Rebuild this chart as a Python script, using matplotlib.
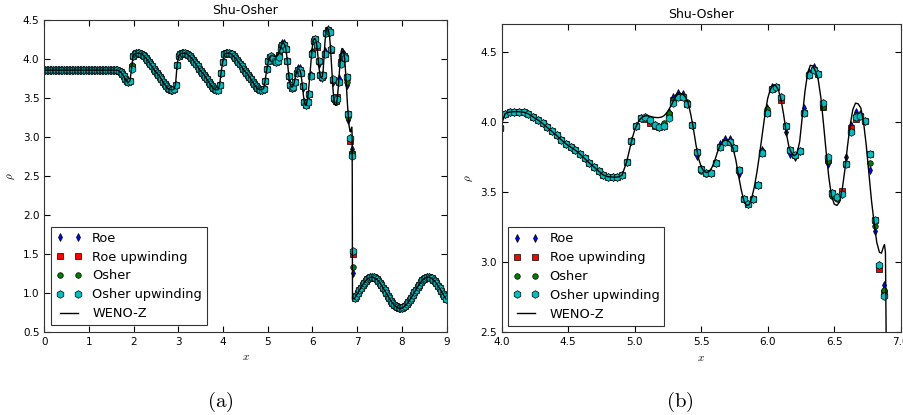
#!/usr/bin/env python3
# -*- coding: utf-8 -*-
# Shu-Osher density: full domain (a) and zoom on the shocked region (b)

import numpy as np
import matplotlib
matplotlib.use("Agg")
import matplotlib.pyplot as plt

# cell-centred density, Osher upwinding (256 cells on [0, 9])
rho_osher_up = (
    [3.857] * 47
    + [3.85, 3.835, 3.81, 3.78, 3.74, 3.715, 3.70, 3.72, 3.87, 4.04]
    + [4.065, 4.073, 4.074, 4.074, 4.069, 4.056, 4.036, 4.015, 3.99, 3.962,
       3.935, 3.905, 3.873, 3.845, 3.822, 3.80, 3.772, 3.74, 3.708, 3.68,
       3.65, 3.622, 3.61, 3.607, 3.605, 3.612, 3.67, 3.92]
    + [4.04, 4.066, 4.073, 4.074, 4.074, 4.068, 4.055, 4.036, 4.015, 3.99,
       3.962, 3.935, 3.905, 3.873, 3.845, 3.822, 3.80, 3.772, 3.74, 3.708,
       3.68, 3.65, 3.622, 3.61, 3.607, 3.607, 3.66, 3.82, 3.96]
    + [4.06, 4.072, 4.074, 4.074, 4.07, 4.058, 4.036, 4.015, 3.99, 3.962,
       3.935, 3.905, 3.873, 3.845, 3.822, 3.80, 3.772, 3.74, 3.708, 3.68,
       3.65, 3.622, 3.61, 3.607, 3.607, 3.62, 3.716]
    + [3.866, 3.971, 4.031, 4.038, 4.014, 3.979, 3.967, 3.971, 4.026, 4.133,
       4.181, 4.176, 4.129, 3.98, 3.788, 3.664, 3.633, 3.638, 3.705, 3.819,
       3.855, 3.855, 3.817, 3.657, 3.448, 3.414, 3.448, 3.55, 3.776, 4.067,
       4.236, 4.252, 4.181, 3.971, 3.80, 3.764, 3.795, 4.067, 4.336, 4.371,
       4.343, 4.133, 3.748, 3.495, 3.462, 3.49, 3.70, 3.931, 4.033, 4.043,
       4.009, 3.769, 3.30, 2.98, 2.76, 1.53]
    + [0.929, 0.962, 0.997, 1.032, 1.066, 1.098, 1.127, 1.152, 1.173, 1.188,
       1.197, 1.200, 1.197, 1.188, 1.173, 1.153, 1.128, 1.099, 1.067, 1.033,
       0.998, 0.963, 0.929, 0.898, 0.870, 0.845, 0.825, 0.811, 0.802, 0.800,
       0.804, 0.813, 0.829, 0.850, 0.875, 0.905, 0.937, 0.971, 1.006, 1.041,
       1.074, 1.105, 1.132, 1.158, 1.177, 1.191, 1.198, 1.200, 1.195, 1.185,
       1.168, 1.147, 1.121, 1.091, 1.058, 1.024, 0.989, 0.954, 0.921]
)

# cells where the other schemes differ from Osher upwinding
roe_diff = {55: 3.88, 149: 4.07, 150: 4.18, 151: 4.21, 152: 4.20, 155: 3.76,
            160: 3.84, 161: 3.88, 162: 3.88, 164: 3.63, 169: 3.80, 170: 4.10,
            171: 4.25, 174: 3.93, 175: 3.77, 176: 3.75, 178: 4.10, 179: 4.36,
            180: 4.39, 183: 3.70, 187: 3.75, 188: 3.98, 189: 4.07, 190: 4.06,
            192: 3.66, 193: 3.22, 195: 2.84, 196: 1.25}
roe_up_diff = {55: 3.90, 144: 4.02, 145: 3.995, 146: 3.97, 149: 4.05,
               150: 4.157, 151: 4.18, 168: 3.55, 173: 4.16, 182: 4.11,
               183: 3.73, 186: 3.51, 188: 3.96, 189: 4.02, 194: 2.95,
               195: 2.78, 196: 1.50}
osher_diff = {55: 3.92, 144: 4.035, 148: 3.99, 149: 4.062, 150: 4.16,
              151: 4.19, 153: 4.14, 156: 3.65, 157: 3.63, 169: 3.79,
              170: 4.09, 182: 4.11, 183: 3.72, 184: 3.47, 185: 3.45,
              189: 4.05, 192: 3.71, 193: 3.26, 195: 2.80, 196: 1.33}

# WENO-Z reference in the interaction region (smooth parts follow the cells)
weno_x_mid = [4.96, 4.98, 5.00, 5.02, 5.04, 5.06, 5.08, 5.10, 5.12, 5.14,
              5.16, 5.18, 5.20, 5.22, 5.24, 5.26, 5.28, 5.30, 5.32, 5.34,
              5.36, 5.38, 5.40, 5.42, 5.44, 5.46, 5.48, 5.50, 5.52, 5.54,
              5.56, 5.58, 5.60, 5.62, 5.64, 5.66, 5.68, 5.70, 5.72, 5.74,
              5.76, 5.78, 5.80, 5.82, 5.84, 5.86, 5.88, 5.90, 5.92, 5.94,
              5.96, 5.98, 6.00, 6.02, 6.04, 6.06, 6.08, 6.10, 6.12, 6.14,
              6.16, 6.18, 6.20, 6.22, 6.24, 6.26, 6.28, 6.30, 6.32, 6.34,
              6.36, 6.38, 6.40, 6.42, 6.44, 6.46, 6.48, 6.50, 6.52, 6.54,
              6.56, 6.58, 6.60, 6.62, 6.64, 6.66, 6.68, 6.70, 6.72, 6.74,
              6.76, 6.78, 6.80, 6.82, 6.84, 6.855, 6.87, 6.878, 6.885, 6.89,
              6.895]
weno_rho_mid = [3.80, 3.88, 3.945, 3.99, 4.02, 4.037, 4.045, 4.045, 4.04, 4.035,
                4.032, 4.032, 4.035, 4.045, 4.065, 4.095, 4.13, 4.17, 4.195, 4.205,
                4.20, 4.18, 4.14, 4.06, 3.96, 3.84, 3.74, 3.68, 3.648, 3.64,
                3.648, 3.675, 3.72, 3.78, 3.83, 3.86, 3.872, 3.868, 3.85, 3.81,
                3.73, 3.62, 3.52, 3.44, 3.405, 3.41, 3.46, 3.54, 3.65, 3.78,
                3.92, 4.06, 4.17, 4.235, 4.262, 4.26, 4.23, 4.16, 4.05, 3.92,
                3.82, 3.775, 3.76, 3.775, 3.86, 4.04, 4.22, 4.35, 4.405, 4.40,
                4.36, 4.30, 4.17, 3.98, 3.78, 3.60, 3.47, 3.415, 3.405, 3.43,
                3.52, 3.66, 3.83, 3.98, 4.09, 4.135, 4.13, 4.10, 4.00, 3.84,
                3.64, 3.44, 3.28, 3.14, 3.07, 3.065, 3.11, 3.125, 3.07, 2.5,
                0.92]


def build_series():
    x = (np.arange(len(rho_osher_up)) + 0.5) * 9.0 / len(rho_osher_up)
    base = np.array(rho_osher_up)
    series = {}
    for name, diff in [("roe", roe_diff), ("roe_up", roe_up_diff), ("osher", osher_diff)]:
        y = base.copy()
        for i, v in diff.items():
            y[i] = v
        series[name] = y
    series["osher_up"] = base
    # reference line: cells up to 4.94, fine data in the middle, cells after the shock
    wx = np.concatenate([x[:141], weno_x_mid, x[197:]])
    wy = np.concatenate([base[:141], weno_rho_mid, base[197:]])
    return x, series, wx, wy


def draw(ax, x, s, wx, wy):
    ax.plot(x, s["roe"], "d", color="b", ms=4, mec="k", mew=0.5, label="Roe")
    ax.plot(x, s["roe_up"], "s", color="r", ms=4, mec="k", mew=0.5, label="Roe upwinding")
    ax.plot(x, s["osher"], "o", color="g", ms=4, mec="k", mew=0.5, label="Osher")
    ax.plot(x, s["osher_up"], "h", color="c", ms=5.5, mec="k", mew=0.5, label="Osher upwinding")
    ax.plot(wx, wy, "-", color="k", lw=1, label="WENO-Z")
    ax.set_title("Shu-Osher", fontsize=9, pad=4)
    ax.set_xlabel("$x$", fontsize=8)
    ax.set_ylabel(r"$\rho$", fontsize=8)
    ax.tick_params(direction="in", top=True, right=True, labelsize=7.5, length=4)
    leg = ax.legend(loc="lower left", numpoints=2, fontsize=9.3, fancybox=False,
                    borderaxespad=0.5, handletextpad=0.8, labelspacing=0.45)
    leg.get_frame().set_edgecolor("k")
    leg.get_frame().set_linewidth(0.8)


def main():
    plt.rcParams["mathtext.fontset"] = "cm"
    x, s, wx, wy = build_series()
    fig = plt.figure(figsize=(9.04, 4.15), dpi=100, facecolor="white")

    ax1 = fig.add_axes([0.049, 0.2007, 0.445, 0.751])
    draw(ax1, x, s, wx, wy)
    ax1.set_xlim(0, 9)
    ax1.set_ylim(0.5, 4.5)
    ax1.set_xticks(np.arange(0, 10, 1))
    ax1.set_yticks(np.arange(0.5, 4.51, 0.5))

    ax2 = fig.add_axes([0.555, 0.1993, 0.4414, 0.743])
    draw(ax2, x, s, wx, wy)
    ax2.set_xlim(4, 7)
    ax2.set_ylim(2.5, 4.7)
    ax2.set_xticks(np.arange(4, 7.01, 0.5))
    ax2.set_yticks(np.arange(2.5, 4.51, 0.5))

    for a in (ax1, ax2):
        a.xaxis.set_major_formatter(plt.FormatStrFormatter("%g" if a is ax1 else "%.1f"))
        a.yaxis.set_major_formatter(plt.FormatStrFormatter("%.1f"))
        for sp in a.spines.values():
            sp.set_color("#333333")

    fig.text(220 / 904, 1 - 402 / 415, r"$\mathrm{(a)}$", ha="center", va="center", fontsize=15)
    fig.text(680 / 904, 1 - 402 / 415, r"$\mathrm{(b)}$", ha="center", va="center", fontsize=15)

    fig.savefig("out.png", dpi=100, facecolor="white")
    plt.close(fig)


if __name__ == "__main__":
    main()
